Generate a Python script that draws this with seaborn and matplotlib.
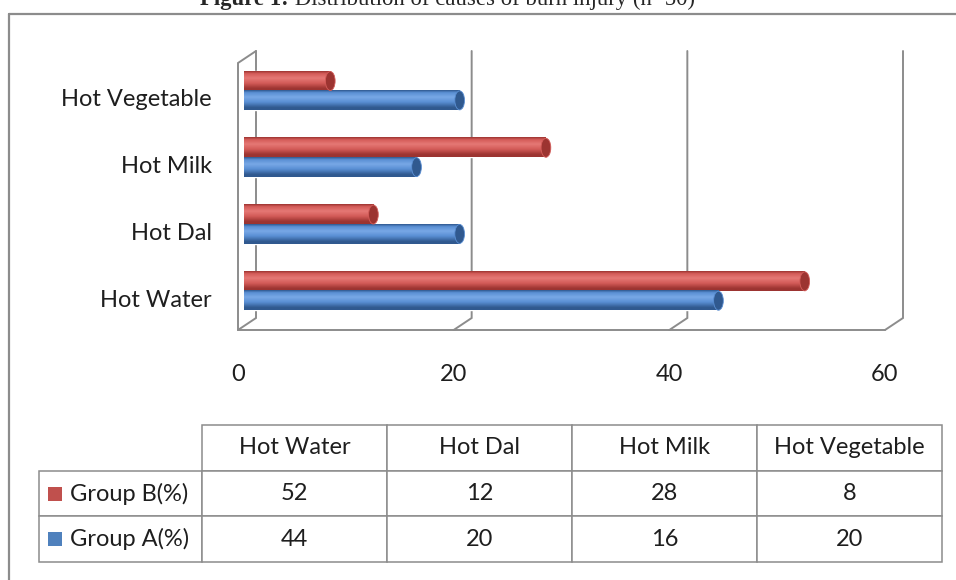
import numpy as np
import pandas as pd
import matplotlib
matplotlib.use("Agg")
import matplotlib.pyplot as plt
import matplotlib.transforms as mtransforms
from matplotlib.colors import LinearSegmentedColormap
from matplotlib.patches import Ellipse, Rectangle
from matplotlib.lines import Line2D
import seaborn as sns

# ---------------- data ----------------
causes = ["Hot Water", "Hot Dal", "Hot Milk", "Hot Vegetable"]
group_a = [44, 20, 16, 20]
group_b = [52, 12, 28, 8]
series_names = ["Group B(%)", "Group A(%)"]
x_ticks = [0, 20, 40, 60]
title_bold = "Figure 1:"
title_rest = " Distribution of causes of burn injury (n=50)"

# ---------------- style ----------------
sns.set_style("white")
plt.rcParams["font.family"] = ["Lato", "DejaVu Sans"]
FS = 17
GRID = "#8c8c8c"

# colours: (dark, main, light) per series, legend colour
shades = {
    "Group B(%)": ("#9c3431", "#d45c59", "#e57875"),
    "Group A(%)": ("#30598f", "#5a8fd4", "#78a8e6"),
}
key_colors = {"Group B(%)": "#c0504d", "Group A(%)": "#4f81bd"}

df = pd.DataFrame({
    "cause": causes * 2,
    "group": ["Group B(%)"] * len(causes) + ["Group A(%)"] * len(causes),
    "value": group_b + group_a,
})

W, H = 956, 580
fig = plt.figure(figsize=(W / 100, H / 100), dpi=100)


def fx(px):
    return px / W


def fy(py):
    return 1 - py / H


# ---------------- bar chart ----------------
ax = fig.add_axes([fx(244), fy(318), fx(891) - fx(244), fy(51) - fy(318)])
ax.patch.set_visible(False)
sns.barplot(data=df, x="value", y="cause", hue="group",
            order=causes[::-1], hue_order=series_names,
            palette={k: v[1] for k, v in shades.items()},
            width=0.58, saturation=1, legend=False, ax=ax, zorder=3)

# cylinder shading on every bar + end cap
bar_groups = [series_names[0]] * len(causes) + [series_names[1]] * len(causes)
for patch, grp in zip(ax.patches, bar_groups):
    dark, main, light = shades[grp]
    cmap = LinearSegmentedColormap.from_list(
        "cyl", [(0, dark), (0.12, main), (0.35, light), (0.6, main), (0.88, dark), (1, dark)])
    x0, y0 = patch.get_x(), patch.get_y()
    w, h = patch.get_width(), patch.get_height()
    ax.imshow(np.linspace(0, 1, 64).reshape(-1, 1), cmap=cmap, aspect="auto",
              extent=[x0, x0 + w, y0 + h, y0], origin="upper", zorder=3.5,
              interpolation="bilinear")
    ax.add_patch(Ellipse((x0 + w, y0 + h / 2), width=0.9, height=h * 0.98,
                         facecolor=dark, edgecolor=main, linewidth=0.6, zorder=4))

ax.set_xlim(0, 60)
ax.set_ylim(3.404, -0.594)
for s in ax.spines.values():
    s.set_visible(False)
ax.set_xlabel("")
ax.set_ylabel("")

# ticks / labels
ax.set_xticks(x_ticks)
ax.set_xticklabels([str(t) for t in x_ticks])
ax.tick_params(axis="x", length=0, pad=33, labelsize=FS, colors="#1e1e1e")
ax.tick_params(axis="y", length=0, pad=23, labelsize=FS, colors="#1e1e1e")
for lab in ax.get_xticklabels():
    lab.set_transform(lab.get_transform() +
                      mtransforms.ScaledTranslation(-6 / 100, 0, fig.dpi_scale_trans))
for lab in ax.get_yticklabels():
    lab.set_transform(lab.get_transform() +
                      mtransforms.ScaledTranslation(0, -7 / 100, fig.dpi_scale_trans))

# 3D walls (back wall gridlines, floor, side wall)
to_fig = fig.transFigure.inverted()


def wall_pt(t, yfrac, depth):
    xd = ax.transData.transform((t, 0))[0] + 12 - 18 * depth
    yd = ax.transAxes.transform((0, yfrac))[1] - 12 * depth
    return to_fig.transform((xd, yd))


def wall_line(pts, z=1):
    xs, ys = zip(*pts)
    ax.plot(xs, ys, transform=fig.transFigure, color=GRID, lw=1.4,
            clip_on=False, zorder=z, solid_joinstyle="miter")


for t in x_ticks:
    wall_line([wall_pt(t, 1, 0), wall_pt(t, 0, 0), wall_pt(t, 0, 1)])
wall_line([wall_pt(x_ticks[0], 0, 1), wall_pt(x_ticks[-1], 0, 1)])
wall_line([wall_pt(x_ticks[0], 0, 1), wall_pt(x_ticks[0], 1, 1), wall_pt(x_ticks[0], 1, 0)])

# ---------------- title and frame ----------------
t1 = fig.text(fx(200), fy(10.5), title_bold, family="Liberation Serif",
              weight="bold", size=16.4, va="bottom", ha="left")
ax.annotate(title_rest, xy=(1, 0), xycoords=t1, va="bottom", ha="left",
            family="Liberation Serif", size=16.4, annotation_clip=False)
fig.add_artist(Line2D([fx(9), 1], [fy(13.5), fy(13.5)], color=GRID, lw=1.6,
                      transform=fig.transFigure))
fig.add_artist(Line2D([fx(9), fx(9)], [fy(13.5), 0], color=GRID, lw=1.6,
                      transform=fig.transFigure))

# ---------------- data table ----------------
tab_ax = fig.add_axes([fx(39), fy(562), fx(942) - fx(39), fy(425) - fy(562)])
tab_ax.axis("off")
rows = [[""] + causes]
for name, vals in zip(series_names, [group_b, group_a]):
    rows.append([name] + [str(v) for v in vals])
col_w = np.array([163, 185, 185, 185, 185], dtype=float)
tbl = tab_ax.table(cellText=rows, colWidths=list(col_w / col_w.sum()),
                   cellLoc="center", bbox=[0, 0, 1, 1])
tbl.auto_set_font_size(False)
for (r, c), cell in tbl.get_celld().items():
    cell.set_edgecolor(GRID)
    cell.set_linewidth(1.1)
    cell.get_text().set_fontsize(FS)
    cell.get_text().set_color("#1e1e1e")
    if r == 0 and c == 0:
        cell.visible_edges = "open"
    if r > 0 and c == 0:
        cell.get_text().set_horizontalalignment("left")
        cell._loc = "left"
        cell.PAD = 31 / 163

# colour keys in the row-label cells
key_w = 14 / 903
key_h = 14 / 137
for i, name in enumerate(series_names):
    yc = 1 - (1.5 + i) / 3
    tab_ax.add_patch(Rectangle((9 / 903, yc - key_h / 2), key_w, key_h,
                               facecolor=key_colors[name], edgecolor="none",
                               transform=tab_ax.transAxes, clip_on=False))

fig.savefig("out.png", dpi=100, facecolor="white")
